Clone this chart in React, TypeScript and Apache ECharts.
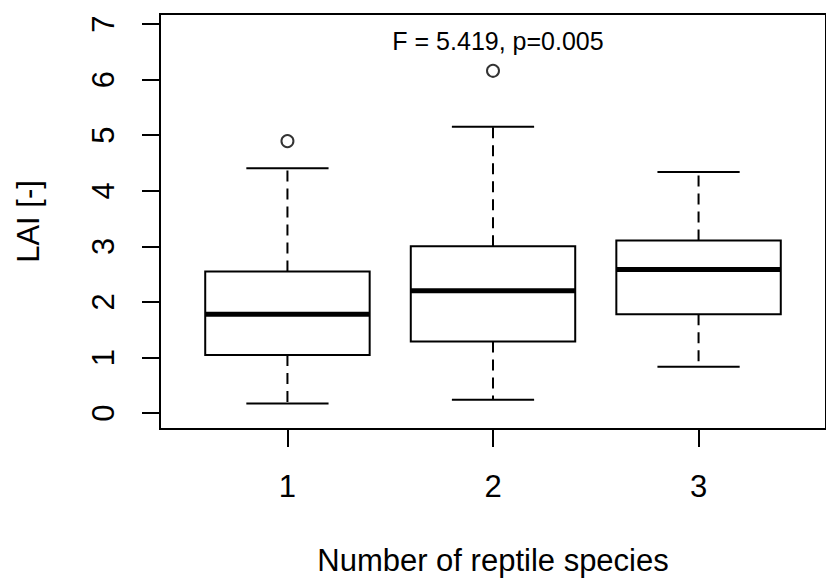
import React, { useEffect, useRef } from "react";
import * as echarts from "echarts";

// ---- data ----
const groups = [1, 2, 3];
const lowerWhisker = [0.173, 0.238, 0.836];
const q1 = [1.044, 1.289, 1.778];
const median = [1.778, 2.202, 2.583];
const q3 = [2.548, 3.002, 3.103];
const upperWhisker = [4.404, 5.15, 4.338];
const outlierGroup = [1, 2];
const outlierValue = [4.893, 6.158];
const xTicks = [1, 2, 3];
const yTicks = [0, 1, 2, 3, 4, 5, 6, 7];
const xTitle = "Number of reptile species";
const yTitle = "LAI [-]";
const annotation = "F = 5.419, p=0.005";

const FONT = "'Liberation Sans', Arial, Helvetica, sans-serif";

export default function App() {
  const ref = useRef<HTMLDivElement>(null);

  useEffect(() => {
    if (!ref.current) return;
    const chart = echarts.init(ref.current, null, { renderer: "svg" });

    const boxData = groups.map((g, i) => [
      g,
      lowerWhisker[i],
      q1[i],
      median[i],
      q3[i],
      upperWhisker[i],
    ]);
    const outData = outlierGroup.map((g, i) => [g, outlierValue[i]]);

    const halfBox = 0.4;
    const halfCap = 0.2;

    const option: any = {
      animation: false,
      backgroundColor: "#ffffff",
      textStyle: { fontFamily: FONT },
      grid: {
        left: 160,
        top: 14,
        width: 675,
        height: 417,
        show: true,
        borderColor: "#000",
        borderWidth: 2,
        backgroundColor: "transparent",
      },
      xAxis: {
        type: "value",
        min: 0.38,
        max: 3.62,
        name: xTitle,
        nameLocation: "middle",
        nameGap: 116,
        nameTextStyle: { fontSize: 31, color: "#000", fontFamily: FONT },
        axisLine: { show: true, onZero: false, lineStyle: { color: "#000", width: 2 } },
        axisTick: {
          show: true,
          inside: false,
          length: 18,
          customValues: xTicks,
          lineStyle: { color: "#000", width: 2 },
        },
        axisLabel: {
          show: true,
          customValues: xTicks,
          margin: 42,
          fontSize: 31,
          color: "#000",
          fontFamily: FONT,
        },
        splitLine: { show: false },
      },
      yAxis: {
        type: "value",
        min: -0.286,
        max: 7.18,
        name: yTitle,
        nameLocation: "middle",
        nameRotate: 90,
        nameGap: 116,
        nameTextStyle: { fontSize: 31, color: "#000", fontFamily: FONT },
        axisLine: { show: true, onZero: false, lineStyle: { color: "#000", width: 2 } },
        axisTick: {
          show: true,
          inside: false,
          length: 18,
          customValues: yTicks,
          lineStyle: { color: "#000", width: 2 },
        },
        axisLabel: {
          show: true,
          customValues: yTicks,
          rotate: 90,
          margin: 41,
          fontSize: 31,
          color: "#000",
          fontFamily: FONT,
        },
        splitLine: { show: false },
      },
      graphic: [
        {
          type: "text",
          x: 498,
          y: 41,
          style: {
            text: annotation,
            fontSize: 25,
            fontFamily: FONT,
            fill: "#000",
            textAlign: "center",
            textVerticalAlign: "middle",
          },
        },
      ],
      series: [
        {
          type: "custom",
          data: boxData,
          clip: false,
          renderItem: (params: any, api: any) => {
            const x = api.value(0);
            const lw = api.value(1);
            const a = api.value(2);
            const m = api.value(3);
            const b = api.value(4);
            const uw = api.value(5);
            const tl = api.coord([x - halfBox, b]);
            const br = api.coord([x + halfBox, a]);
            const mL = api.coord([x - halfBox, m]);
            const mR = api.coord([x + halfBox, m]);
            const pQ3 = api.coord([x, b]);
            const pUW = api.coord([x, uw]);
            const pQ1 = api.coord([x, a]);
            const pLW = api.coord([x, lw]);
            const cUL = api.coord([x - halfCap, uw]);
            const cUR = api.coord([x + halfCap, uw]);
            const cLL = api.coord([x - halfCap, lw]);
            const cLR = api.coord([x + halfCap, lw]);
            const dash = { stroke: "#000", lineWidth: 2, lineDash: [11, 7] };
            const solid = { stroke: "#000", lineWidth: 2 };
            return {
              type: "group",
              children: [
                { type: "line", shape: { x1: pQ3[0], y1: pQ3[1], x2: pUW[0], y2: pUW[1] }, style: dash },
                { type: "line", shape: { x1: pQ1[0], y1: pQ1[1], x2: pLW[0], y2: pLW[1] }, style: dash },
                { type: "line", shape: { x1: cUL[0], y1: cUL[1], x2: cUR[0], y2: cUR[1] }, style: solid },
                { type: "line", shape: { x1: cLL[0], y1: cLL[1], x2: cLR[0], y2: cLR[1] }, style: solid },
                {
                  type: "rect",
                  shape: { x: tl[0], y: tl[1], width: br[0] - tl[0], height: br[1] - tl[1] },
                  style: { fill: "#fff", stroke: "#000", lineWidth: 2 },
                },
                {
                  type: "line",
                  shape: { x1: mL[0], y1: mL[1], x2: mR[0], y2: mR[1] },
                  style: { stroke: "#000", lineWidth: 5 },
                },
              ],
            };
          },
        },
        {
          type: "scatter",
          data: outData,
          symbol: "circle",
          symbolSize: 12,
          itemStyle: { color: "#fff", borderColor: "#000", borderWidth: 2 },
        },
      ],
    };

    chart.setOption(option);
    return () => chart.dispose();
  }, []);

  return (
    <div
      ref={ref}
      style={{ position: "fixed", left: 0, top: 0, width: 826, height: 581, background: "#fff" }}
    />
  );
}
